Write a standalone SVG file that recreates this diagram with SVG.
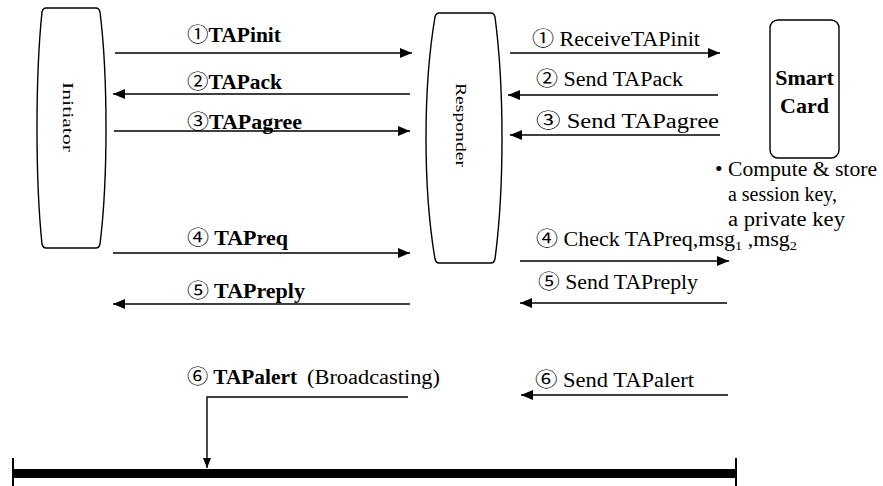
<svg xmlns="http://www.w3.org/2000/svg" width="883" height="486" viewBox="0 0 883 486" font-family="'Liberation Serif', 'DejaVu Serif', serif">
  <defs>
    <style>
      text { font-family: "Liberation Serif", "DejaVu Serif", serif; fill: #000; }
      .num { font-family: "Noto Sans CJK SC", "DejaVu Sans", sans-serif; font-weight: normal; }
      .bold { font-size: 20px; font-weight: bold; }
      .reg { font-size: 20px; }
      .node { fill: #fff; stroke: #000; stroke-width: 1.4; }
      .wire { fill: none; stroke: #000; stroke-width: 1.4; }
      .vert { font-size: 15px; text-anchor: middle; }
    </style>
    <marker id="arrow" markerUnits="userSpaceOnUse" markerWidth="12" markerHeight="10" refX="12" refY="5" orient="auto">
      <path d="M0,0 L12,5 L0,10 Z" fill="#000"/>
    </marker>
    <marker id="arrowSmall" markerUnits="userSpaceOnUse" markerWidth="10" markerHeight="8" refX="10" refY="4" orient="auto">
      <path d="M0,0 L10,4 L0,8 Z" fill="#000"/>
    </marker>
  </defs>

  <rect x="0" y="0" width="883" height="486" fill="#fff"/>

  <!-- Initiator -->
  <g id="initiator">
    <path class="node" d="M46 8 H96 Q99 8 100 12 Q106 60 106 128 Q106 196 100 244 Q99 248 96 248 H46 Q43 248 42 244 Q37 196 37 128 Q37 60 42 12 Q43 8 46 8 Z"/>
    <text class="vert" transform="translate(68,117) rotate(90)" x="0" y="5" textLength="70" lengthAdjust="spacingAndGlyphs">Initiator</text>
  </g>

  <!-- Responder -->
  <g id="responder">
    <path class="node" d="M439 13 H491 Q494 13 495 17 Q502 70 502 138 Q502 206 495 259 Q494 263 491 263 H439 Q436 263 435 259 Q426 206 426 138 Q426 70 435 17 Q436 13 439 13 Z"/>
    <text class="vert" transform="translate(461,125) rotate(90)" x="0" y="5" textLength="84" lengthAdjust="spacingAndGlyphs">Responder</text>
  </g>

  <!-- Smart card -->
  <g id="smartcard">
    <rect class="node" x="770" y="20" width="69" height="138" rx="8" ry="8"/>
    <text x="804.5" y="85" font-size="22" font-weight="bold" text-anchor="middle">Smart</text>
    <text x="804.5" y="113" font-size="22" font-weight="bold" text-anchor="middle">Card</text>
  </g>

  <!-- Smart card note -->
  <g id="card-note">
    <text class="reg" x="715" y="176" textLength="162" lengthAdjust="spacingAndGlyphs">• Compute &amp; store</text>
    <text class="reg" x="728" y="201" textLength="109" lengthAdjust="spacingAndGlyphs">a session key,</text>
    <text class="reg" x="728" y="226" textLength="117" lengthAdjust="spacingAndGlyphs">a private key</text>
  </g>

  <!-- Broadcast bus -->
  <g id="bus">
    <rect x="13" y="469" width="723" height="9" fill="#000"/>
    <line x1="13" y1="458" x2="13" y2="486" stroke="#000" stroke-width="2"/>
    <line x1="736" y1="458" x2="736" y2="486" stroke="#000" stroke-width="2"/>
  </g>

  <!-- Connectors -->
  <g id="connectors">
    <!-- Initiator <-> Responder -->
    <line class="wire" x1="115" y1="53" x2="412" y2="53" marker-end="url(#arrow)"/>
    <line class="wire" x1="410" y1="94" x2="113" y2="94" marker-end="url(#arrow)"/>
    <line class="wire" x1="114" y1="131" x2="410" y2="131" marker-end="url(#arrow)"/>
    <line class="wire" x1="113" y1="253" x2="410" y2="253" marker-end="url(#arrow)"/>
    <line class="wire" x1="410" y1="304" x2="113" y2="304" marker-end="url(#arrow)"/>
    <polyline class="wire" points="408,397 207,397 207,468" marker-end="url(#arrowSmall)"/>

    <!-- Responder <-> Smart card -->
    <line class="wire" x1="510" y1="53" x2="720" y2="53" marker-end="url(#arrow)"/>
    <line class="wire" x1="718" y1="95" x2="508" y2="95" marker-end="url(#arrow)"/>
    <line class="wire" x1="720" y1="135" x2="510" y2="135" marker-end="url(#arrow)"/>
    <line class="wire" x1="520" y1="261" x2="729" y2="261" marker-end="url(#arrow)"/>
    <line class="wire" x1="727" y1="303" x2="520" y2="303" marker-end="url(#arrow)"/>
    <line class="wire" x1="728" y1="395" x2="521" y2="395" marker-end="url(#arrow)"/>
  </g>

  <!-- Message labels -->
  <g id="labels">
    <text class="bold" x="187" y="42" textLength="94" lengthAdjust="spacingAndGlyphs"><tspan class="num">①</tspan>TAPinit</text>
    <text class="bold" x="187" y="89" textLength="95" lengthAdjust="spacingAndGlyphs"><tspan class="num">②</tspan>TAPack</text>
    <text class="bold" x="187" y="129" textLength="115" lengthAdjust="spacingAndGlyphs"><tspan class="num">③</tspan>TAPagree</text>
    <text class="bold" x="187" y="245" textLength="101" lengthAdjust="spacingAndGlyphs"><tspan class="num">④</tspan> TAPreq</text>
    <text class="bold" x="187" y="298" textLength="118" lengthAdjust="spacingAndGlyphs"><tspan class="num">⑤</tspan> TAPreply</text>
    <text class="bold" x="187" y="384" textLength="110" lengthAdjust="spacingAndGlyphs"><tspan class="num">⑥</tspan> TAPalert</text>
    <text class="reg" x="307" y="384" textLength="133" lengthAdjust="spacingAndGlyphs">(Broadcasting)</text>

    <text class="reg" x="532" y="46" textLength="168" lengthAdjust="spacingAndGlyphs"><tspan class="num">①</tspan> ReceiveTAPinit</text>
    <text class="reg" x="536" y="86" textLength="147" lengthAdjust="spacingAndGlyphs"><tspan class="num">②</tspan> Send TAPack</text>
    <text class="reg" x="536" y="128" textLength="183" lengthAdjust="spacingAndGlyphs"><tspan class="num">③</tspan> Send TAPagree</text>
    <text class="reg" x="536" y="246" textLength="261" lengthAdjust="spacingAndGlyphs"><tspan class="num">④</tspan> Check TAPreq,msg<tspan font-size="13" dy="4">1</tspan><tspan dy="-4"> ,msg</tspan><tspan font-size="13" dy="4">2</tspan></text>
    <text class="reg" x="538" y="289" textLength="160" lengthAdjust="spacingAndGlyphs"><tspan class="num">⑤</tspan> Send TAPreply</text>
    <text class="reg" x="535" y="387" textLength="159" lengthAdjust="spacingAndGlyphs"><tspan class="num">⑥</tspan> Send TAPalert</text>
  </g>
</svg>
